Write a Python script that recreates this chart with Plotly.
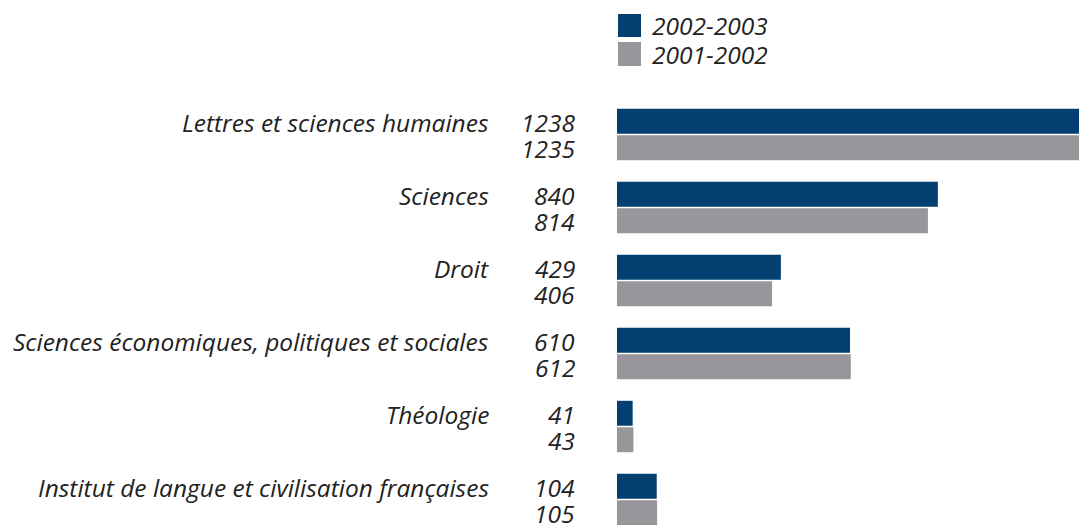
import plotly.graph_objects as go

categories = [
    "Lettres et sciences humaines",
    "Sciences",
    "Droit",
    "Sciences économiques, politiques et sociales",
    "Théologie",
    "Institut de langue et civilisation françaises",
]
series_names = ["2002-2003", "2001-2002"]
values_2002_2003 = [1238, 840, 429, 610, 41, 104]
values_2001_2002 = [1235, 814, 406, 612, 43, 105]

colors = ["#033f70", "#97979b"]
FONT = dict(family="'Open Sans', 'Noto Sans', sans-serif", size=24.5, color="#222222",
            style="italic", weight=400)

W, H = 1079, 525
L, T = 617, 98
plot_h = H - T
band = 73.0

fig = go.Figure()
for name, vals, col in zip(series_names, [values_2002_2003, values_2001_2002], colors):
    fig.add_trace(go.Bar(
        y=categories, x=vals, orientation="h", name=name,
        marker=dict(color=col, line=dict(width=0)), showlegend=False,
        hoverinfo="x+y",
    ))

annotations = []
for cat, v1, v2 in zip(categories, values_2002_2003, values_2001_2002):
    annotations.append(dict(x=0, xref="paper", y=cat, yref="y", xshift=-126,
                            xanchor="right", yanchor="middle", yshift=12.5,
                            text=cat, showarrow=False, font=FONT))
    annotations.append(dict(x=0, xref="paper", y=cat, yref="y", xshift=-40,
                            xanchor="right", yanchor="middle", yshift=12.5, height=26,
                            text=str(v1), showarrow=False, font=FONT))
    annotations.append(dict(x=0, xref="paper", y=cat, yref="y", xshift=-40,
                            xanchor="right", yanchor="middle", yshift=-13.5, height=26,
                            text=str(v2), showarrow=False, font=FONT))

# legend (manual, large swatches)
shapes = []
leg_y = [(14, 37), (42, 66)]
for (y0, y1), col, name in zip(leg_y, colors, series_names):
    shapes.append(dict(type="rect", xref="paper", yref="paper",
                       x0=(618 - L) / (W - L), x1=(641 - L) / (W - L),
                       y0=(H - y1) / plot_h, y1=(H - y0) / plot_h,
                       fillcolor=col, line=dict(width=0)))
    annotations.append(dict(x=(650 - L) / (W - L), xref="paper",
                            y=(H - (y0 + y1) / 2) / plot_h, yref="paper",
                            xanchor="left", yanchor="middle", text=name, height=27,
                            showarrow=False, font=FONT))

xmax = (W - L) / ((850 - L) / 610)
ybottom = plot_h / band - 0.5

fig.update_layout(
    width=W, height=H,
    margin=dict(l=L, r=0, t=T, b=0, pad=0),
    paper_bgcolor="white", plot_bgcolor="white",
    barmode="group", bargap=20 / 73, bargroupgap=0.06,
    xaxis=dict(range=[0, xmax], visible=False, fixedrange=True),
    yaxis=dict(range=[ybottom, -0.5], visible=False, type="category",
               categoryorder="array", categoryarray=categories),
    annotations=annotations, shapes=shapes, font=FONT,
)

fig.write_html("out.html", config={"displayModeBar": False},
               post_script="document.body.style.margin='0';document.body.style.overflow='hidden';")
